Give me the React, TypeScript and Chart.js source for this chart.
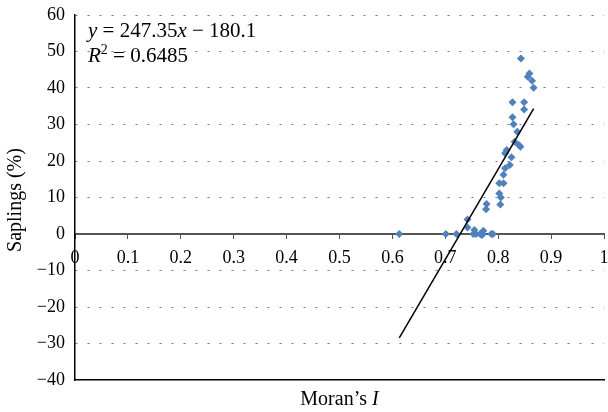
import React, { useEffect, useRef } from 'react';
import { Chart, registerables } from 'chart.js';

Chart.register(...registerables);

// Moran's I (x) and Saplings % (y)
const moranI = [
  0.613, 0.701, 0.721, 0.753, 0.758, 0.766, 0.771, 0.787, 0.790,
  0.755, 0.772, 0.769, 0.742, 0.742,
  0.778, 0.777, 0.804, 0.805, 0.802, 0.802, 0.810, 0.810, 0.813, 0.822,
  0.825, 0.813, 0.816, 0.842, 0.839, 0.831, 0.836, 0.829, 0.827, 0.849,
  0.827, 0.849, 0.867, 0.864, 0.856, 0.859, 0.843,
];
const saplings = [
  0, 0, 0, 0, 0, 0, 0, 0, 0,
  1.1, 0.9, -0.3, 1.8, 4.0,
  8.2, 6.8, 8.1, 10.0, 11.1, 13.9, 13.9, 16.2, 18.0, 18.9,
  21.0, 22.1, 23.0, 23.9, 24.4, 25.3, 28.0, 30.1, 32.0, 34.1,
  36.1, 36.1, 40.1, 42.0, 43.1, 44.0, 48.1,
];
const trendSlope = 247.35;
const trendIntercept = -180.1;
const rSquared = '0.6485';
const xMin = 0;
const xMax = 1;
const xStep = 0.1;
const yMin = -40;
const yMax = 60;
const yStep = 10;

const FONT = "'Liberation Serif', 'Times New Roman', serif";
const FS = 18;
const FS_EQ = 21;
const FS_TITLE = 20;

const fmtY = (v: number) => (v < 0 ? '\u2212' + Math.abs(v) : String(v));
const fmtX = (v: number) => String(Math.round(v * 10) / 10);

type Part = [string, string, number];

const textPlugin = {
  id: 'customTexts',
  afterDraw(chart: any) {
    const ctx = chart.ctx as CanvasRenderingContext2D;
    const area = chart.chartArea;
    ctx.save();
    ctx.fillStyle = '#000';
    ctx.textBaseline = 'alphabetic';
    ctx.textAlign = 'left';
    const seg = (parts: Part[], x: number, y: number) => {
      for (const [t, f, dy] of parts) {
        ctx.font = f;
        ctx.fillText(t, x, y + dy);
        x += ctx.measureText(t).width;
      }
      return x;
    };
    const measure = (parts: Part[]) => {
      let w = 0;
      for (const [t, f] of parts) { ctx.font = f; w += ctx.measureText(t).width; }
      return w;
    };
    const reg = `${FS_EQ}px ${FONT}`;
    const ita = `italic ${FS_EQ}px ${FONT}`;
    const sup = `${Math.round(FS_EQ * 0.65)}px ${FONT}`;
    const sign = trendIntercept < 0 ? ' \u2212 ' : ' + ';
    const eq1: Part[] = [
      ['y', ita, 0], [' = ' + trendSlope.toFixed(2), reg, 0], ['x', ita, 0],
      [sign + Math.abs(trendIntercept).toFixed(1), reg, 0],
    ];
    const eq2: Part[] = [
      ['R', ita, 0], ['2', sup, -8], [' = ' + rSquared, reg, 0],
    ];
    const ex = area.left + 13;
    seg(eq1, ex, area.top + 22);
    seg(eq2, ex, area.top + 47);

    // x-axis title
    const treg = `${FS_TITLE}px ${FONT}`;
    const tita = `italic ${FS_TITLE}px ${FONT}`;
    const xt: Part[] = [['Moran\u2019s ', treg, 0], ['I', tita, 0]];
    const w = measure(xt);
    const cx = (area.left + area.right) / 2;
    seg(xt, cx - w / 2, 405);

    // y-axis title
    ctx.translate(21, 200);
    ctx.rotate(-Math.PI / 2);
    ctx.font = treg;
    ctx.textAlign = 'center';
    ctx.fillText('Saplings (%)', 0, 0);
    ctx.restore();
  },
};

export default function App() {
  const ref = useRef<HTMLCanvasElement | null>(null);
  useEffect(() => {
    if (!ref.current) return;
    const pts = moranI.map((x, i) => ({ x, y: saplings[i] }));
    const lo = Math.min(...moranI);
    const hi = Math.max(...moranI);
    const trend = [lo, hi].map((x) => ({ x, y: trendSlope * x + trendIntercept }));
    const chart = new Chart(ref.current, {
      type: 'scatter',
      data: {
        datasets: [
          {
            data: trend,
            showLine: true,
            borderColor: '#000',
            borderWidth: 1.5,
            pointRadius: 0,
            fill: false,
            order: 0,
          } as any,
          {
            data: pts,
            pointStyle: 'rectRot',
            pointRadius: 4,
            backgroundColor: '#4F81BD',
            borderColor: '#4F81BD',
            borderWidth: 0,
            order: 1,
          } as any,
        ],
      },
      options: {
        animation: false,
        responsive: true,
        maintainAspectRatio: false,
        layout: { padding: { top: 15, right: 4, left: 0, bottom: 0 } },
        plugins: { legend: { display: false }, tooltip: { enabled: false } },
        scales: {
          x: {
            type: 'linear',
            position: { y: 0 } as any,
            min: xMin,
            max: xMax,
            ticks: {
              stepSize: xStep,
              color: '#000',
              font: { family: FONT, size: FS },
              padding: 9,
              maxRotation: 0,
              callback: (v: any) => fmtX(Number(v)),
            },
            grid: { drawOnChartArea: false, drawTicks: true, tickLength: 4, tickColor: '#555', tickWidth: 1 },
            border: { color: '#555', width: 2 },
            afterFit: (s: any) => { s.paddingLeft = 0; s.paddingRight = 0; s.paddingTop = 0; s.paddingBottom = 0; },
          } as any,
          x2: {
            type: 'linear',
            axis: 'x',
            position: 'bottom',
            min: xMin,
            max: xMax,
            ticks: { display: false },
            grid: { display: false },
            border: { display: true, color: '#000', width: 1.5 },
            afterFit: (s: any) => { s.height = 32; s.paddingLeft = 0; s.paddingRight = 0; s.paddingTop = 0; s.paddingBottom = 0; },
          } as any,
          y: {
            type: 'linear',
            min: yMin,
            max: yMax,
            ticks: {
              stepSize: yStep,
              color: '#000',
              font: { family: FONT, size: FS },
              padding: 10,
              callback: (v: any) => fmtY(Number(v)),
            },
            grid: {
              drawTicks: false,
              lineWidth: 1,
              color: (c: any) => (c.tick && (c.tick.value === 0 || c.tick.value === yMin) ? 'rgba(0,0,0,0)' : '#777'),
            },
            border: { color: '#000', width: 1.5, dash: [2, 10] },
            afterFit: (s: any) => { s.width = 75; s.paddingLeft = 0; s.paddingRight = 0; s.paddingTop = 0; s.paddingBottom = 0; },
          } as any,
        },
      },
      plugins: [textPlugin],
    });
    return () => chart.destroy();
  }, []);
  return (
    <div style={{ position: 'fixed', left: 0, top: 0, width: 608, height: 412, background: '#fff' }}>
      <canvas ref={ref} />
    </div>
  );
}
